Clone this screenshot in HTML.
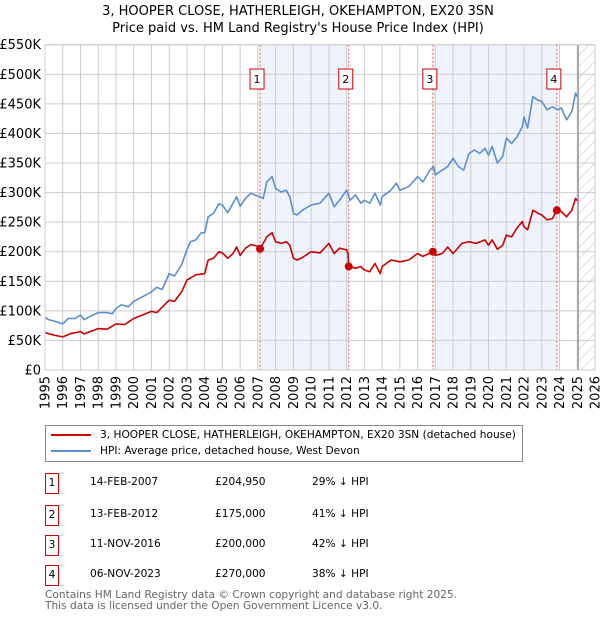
<!DOCTYPE html>
<html><head><meta charset="utf-8"><style>
body{margin:0;background:#fff;font-family:"DejaVu Sans","Liberation Sans",sans-serif;}
#wrap{position:relative;width:600px;height:620px;overflow:hidden;}
.t{position:absolute;font-size:10.6px;color:#000;white-space:nowrap;}
</style></head><body>
<div id="wrap">
<svg id="chart" width="600" height="420" style="position:absolute;left:0;top:0"></svg>
<div style="position:absolute;left:45px;top:425px;width:478px;height:37px;border:1px solid #888;box-sizing:border-box;">
 <div style="position:absolute;left:5px;top:3px;font-size:10.6px;white-space:nowrap"><span style="display:inline-block;width:40px;height:2px;background:#cc0000;vertical-align:middle;margin-right:9px"></span>3, HOOPER CLOSE, HATHERLEIGH, OKEHAMPTON, EX20 3SN (detached house)</div>
 <div style="position:absolute;left:5px;top:19px;font-size:10.6px;white-space:nowrap"><span style="display:inline-block;width:40px;height:2px;background:#5b8fd0;vertical-align:middle;margin-right:9px"></span>HPI: Average price, detached house, West Devon</div>
</div>
<div id="table"></div>
<div class="t" style="left:45px;top:590px;color:#666;line-height:11px">Contains HM Land Registry data © Crown copyright and database right 2025.<br>This data is licensed under the Open Government Licence v3.0.</div>
</div>
<script>
const saleDates=[2007.12,2012.12,2016.86,2023.85];
const saleLabels=["14-FEB-2007","13-FEB-2012","11-NOV-2016","06-NOV-2023"];
const salePrices=[204950,175000,200000,270000];
const salePriceText=["£204,950","£175,000","£200,000","£270,000"];
const saleHpiText=["29% ↓ HPI","41% ↓ HPI","42% ↓ HPI","38% ↓ HPI"];
const yTicks=[0,50,100,150,200,250,300,350,400,450,500,550];
const xYears=[1995,1996,1997,1998,1999,2000,2001,2002,2003,2004,2005,2006,2007,2008,2009,2010,2011,2012,2013,2014,2015,2016,2017,2018,2019,2020,2021,2022,2023,2024,2025,2026];
const hpiT=[1995,1995.2,1995.5,1995.8,1996,1996.3,1996.7,1997,1997.2,1997.5,1998,1998.5,1998.8,1999,1999.3,1999.7,2000,2000.5,2001,2001.3,2001.6,2002,2002.3,2002.7,2003,2003.2,2003.5,2003.8,2004,2004.2,2004.5,2004.8,2005,2005.3,2005.6,2005.8,2006,2006.3,2006.6,2006.9,2007.1,2007.3,2007.5,2007.8,2008,2008.3,2008.6,2008.8,2009,2009.2,2009.5,2010,2010.5,2011,2011.3,2011.6,2012,2012.2,2012.5,2012.8,2013,2013.3,2013.6,2013.9,2014,2014.5,2014.8,2015,2015.5,2016,2016.3,2016.7,2016.9,2017,2017.4,2017.7,2018,2018.3,2018.6,2018.9,2019.2,2019.5,2019.8,2020,2020.2,2020.5,2020.8,2021,2021.3,2021.6,2021.9,2022,2022.2,2022.5,2022.8,2023,2023.3,2023.6,2023.9,2024.1,2024.4,2024.7,2024.9,2025];
const hpiV=[89,85,83,80,78,87,87,93,85,90,97,97,95,104,110,107,116,124,132,140,136,163,159,178,203,217,220,232,232,259,265,281,279,266,282,293,277,290,299,295,293,290,318,327,307,301,304,293,265,262,270,279,282,299,276,287,304,287,296,282,287,282,299,279,293,304,316,304,310,327,318,338,344,330,338,344,358,344,338,366,372,366,375,363,378,350,361,392,383,394,411,428,409,462,456,454,440,445,440,443,423,437,468,462];
const redT=[1995,1995.5,1996,1996.5,1997,1997.2,1998,1998.5,1999,1999.5,2000,2000.5,2001,2001.3,2002,2002.3,2002.7,2003,2003.5,2004,2004.2,2004.5,2004.8,2005,2005.3,2005.6,2005.8,2006,2006.3,2006.6,2006.9,2007.12,2007.3,2007.5,2007.8,2008,2008.3,2008.6,2008.8,2009,2009.2,2009.5,2010,2010.5,2011,2011.3,2011.6,2012,2012.08,2012.12,2012.5,2012.8,2013,2013.3,2013.6,2013.9,2014,2014.5,2015,2015.5,2016,2016.3,2016.86,2017,2017.4,2017.7,2018,2018.5,2018.9,2019.3,2019.8,2020,2020.2,2020.5,2020.8,2021,2021.3,2021.6,2021.9,2022,2022.2,2022.5,2022.8,2023,2023.3,2023.6,2023.85,2024.1,2024.4,2024.7,2024.9,2025];
const redV=[63,59,56,62,65,61,70,69,78,77,87,93,99,97,118,116,132,152,161,163,186,189,200,198,189,197,208,194,206,212,210,204.95,214,225,232,217,214,217,211,189,186,190,200,198,214,197,206,203,197,175,172,175,169,166,180,163,175,186,183,186,197,192,200,194,197,208,197,214,217,214,220,211,220,204,211,228,225,240,251,242,237,270,265,262,254,256,270,268,259,270,290,286];

const NS="http://www.w3.org/2000/svg";
const svg=document.getElementById('chart');
const L=45,R=595,T=44.7,B=370;
const x=y=>L+(y-1995)/(2026-1995)*(R-L);
const yv=v=>B-v/550*(B-T);
function mk(tag,attrs,parent){const e=document.createElementNS(NS,tag);for(const k in attrs)e.setAttribute(k,attrs[k]);(parent||svg).appendChild(e);return e;}

let b1=mk('rect',{x:x(saleDates[0]),y:T,width:x(saleDates[1])-x(saleDates[0]),height:B-T,fill:'#eef3fc'});


let b2=mk('rect',{x:x(saleDates[2]),y:T,width:x(saleDates[3])-x(saleDates[2]),height:B-T,fill:'#eef3fc'});


const defs=mk('defs',{});
const pat=mk('pattern',{id:'hatch',width:8,height:8,patternUnits:'userSpaceOnUse',patternTransform:'rotate(45)'},defs);
mk('line',{x1:0,y1:0,x2:0,y2:8,stroke:'#bbb','stroke-width':1},pat);
let hx=x(2025.05);
let h=mk('rect',{x:hx,y:T,width:R-hx,height:B-T,fill:'url(#hatch)'});


xYears.forEach(yr=>{let g=mk('line',{x1:x(yr),x2:x(yr),y1:T,y2:B,stroke:'#cccccc','stroke-width':1});


let t=mk('text',{x:0,y:0,'font-size':13,'text-anchor':'end',transform:`translate(${x(yr)+4.5},${B+6}) rotate(-90)`});t.textContent=yr;

});
yTicks.forEach(v=>{let g=mk('line',{x1:L,x2:R,y1:yv(v),y2:yv(v),stroke:'#cccccc','stroke-width':1});


let t=mk('text',{x:L-4,y:yv(v)+4.5,'font-size':13,'text-anchor':'end'});t.textContent=v===0?'£0':'£'+v+'K';

});
let vl=mk('line',{x1:hx,x2:hx,y1:T,y2:B,stroke:'#888','stroke-width':1.2});


saleDates.forEach((d,i)=>{let l=mk('line',{x1:x(d),x2:x(d),y1:T,y2:B,stroke:'#e06060','stroke-width':1,'stroke-dasharray':'2,2'});


let bx=mk('rect',{x:x(d)-10,y:69,width:14,height:20,fill:'#fff',stroke:'#cc0000','stroke-width':1});


let t=mk('text',{x:x(d)-3,y:83,'font-size':11,'text-anchor':'middle'});t.textContent=i+1;

});
function path(ts,vs){return ts.map((t,i)=>(i?'L':'M')+x(t).toFixed(1)+','+yv(vs[i]).toFixed(1)).join('');}
let hp=mk('path',{d:path(hpiT,hpiV),fill:'none',stroke:'#5b8fd0','stroke-width':1.6,'stroke-linejoin':'round'});


let rp=mk('path',{d:path(redT,redV),fill:'none',stroke:'#cc0000','stroke-width':1.6,'stroke-linejoin':'round'});


saleDates.forEach((d,i)=>{let c=mk('circle',{cx:x(d),cy:yv(salePrices[i]/1000),r:4,fill:'#cc0000'});

});
let fr=mk('rect',{x:L,y:T,width:R-L,height:B-T,fill:'none',stroke:'#cccccc'});


let t1=mk('text',{x:298,y:15,'font-size':13,'text-anchor':'middle'});t1.textContent='3, HOOPER CLOSE, HATHERLEIGH, OKEHAMPTON, EX20 3SN';


let t2=mk('text',{x:298,y:32,'font-size':13,'text-anchor':'middle'});t2.textContent="Price paid vs. HM Land Registry's House Price Index (HPI)";



const tb=document.getElementById('table');
const rowY=[483,515,545,575];
saleDates.forEach((d,i)=>{
 const y=rowY[i];
 const box=document.createElement('div');
 
 
 box.style.cssText=`position:absolute;left:45px;top:${y-10}px;width:14px;height:21px;border:1px solid #cc0000;box-sizing:border-box;font-size:10.6px;text-align:center;line-height:19px`;
 box.textContent=i+1;tb.appendChild(box);
 [[saleLabels[i],90,'sale-date'],[salePriceText[i],215,'sale-price'],[saleHpiText[i],312,'sale-hpi-diff']].forEach(([txt,lx,nm])=>{
  const e=document.createElement('div');
  
  
  e.className='t';e.style.left=lx+'px';e.style.top=(y-7)+'px';e.textContent=txt;tb.appendChild(e);});
});
</script>
</body></html>
